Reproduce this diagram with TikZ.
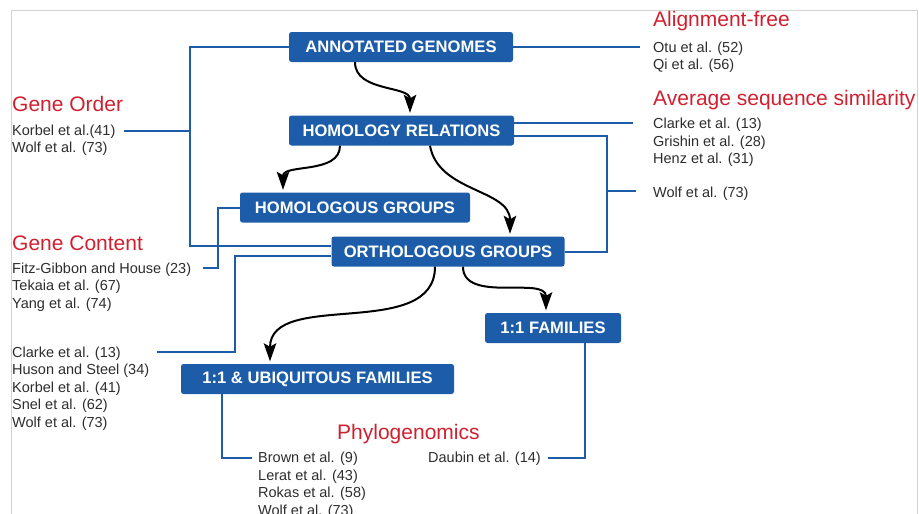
\documentclass[tikz,border=0pt]{standalone}
\usepackage{fontspec}
\setmainfont{Liberation Sans}
\usetikzlibrary{positioning}
\usetikzlibrary{arrows.meta}
\definecolor{boxblue}{RGB}{28,92,168}
\definecolor{headred}{RGB}{208,32,48}
\definecolor{reftext}{RGB}{45,45,45}
\tikzset{
box/.style={ % blue step boxes
	fill=boxblue, text=white, rounded corners=2.5pt,
	minimum height=30pt, inner xsep=8pt,
	font=\fontsize{16.6}{19}\selectfont\bfseries},
head/.style={ % red method titles
	anchor=base west, inner sep=0pt, text=headred,
	font=\fontsize{21}{25}\selectfont},
refs/.style={ % lists of references
	anchor=north west, align=left, inner sep=0pt, text=reftext,
	font=\fontsize{14.5}{17.5}\selectfont},
link/.style={draw=boxblue, line width=2pt},
flow/.style={draw=black, line width=2pt, ->, shorten >=2.5pt},
>={Stealth[length=18pt,width=12.5pt,inset=3.5pt]}}

\begin{document}
\begin{tikzpicture}[x=1pt,y=1pt]
\useasboundingbox (0,0) rectangle (919,-514);
\clip (0,0) rectangle (919,-514);
\draw[gray!35, line width=1pt] (11,-520) |- (917,-10) -- (917,-520);

% boxes
\node[box, minimum width=224pt] (annot) at (401,-47) {ANNOTATED GENOMES};
\node[box, minimum width=225pt] (homrel) at (401.5,-130.5) {HOMOLOGY RELATIONS};
\node[box, minimum width=230pt] (homgrp) at (355,-207.5) {HOMOLOGOUS GROUPS};
\node[box, minimum width=233pt] (orthgrp) at (448,-251.5) {ORTHOLOGOUS GROUPS};
\node[box, minimum width=136pt] (fam) at (553,-328) {1:1 FAMILIES};
\node[box, minimum width=273pt] (ubiq) at (317.5,-379) {1:1 \& UBIQUITOUS FAMILIES};

% titles and references
\node[head] (gorder) at (12,-111) {Gene Order};
\node[refs] (gorefs) at (12,-124.5) {Korbel et al.(41)\\Wolf et al. (73)};
\node[head] (gcont) at (12,-250) {Gene Content};
\node[refs] (gcrefs) at (12,-262.5) {Fitz-Gibbon and House (23)\\Tekaia et al. (67)\\Yang et al. (74)};
\node[refs] (orefs) at (12,-346.5) {Clarke et al. (13)\\Huson and Steel (34)\\Korbel et al. (41)\\Snel et al. (62)\\Wolf et al. (73)};
\node[head] (alfree) at (653,-26) {Alignment-free};
\node[refs] (alrefs) at (653,-41.5) {Otu et al. (52)\\Qi et al. (56)};
\node[head] (avgsim) at (653,-105) {Average sequence similarity};
\node[refs] (simrefs) at (653,-118) {Clarke et al. (13)\\Grishin et al. (28)\\Henz et al. (31)};
\node[refs] (wolfrefs) at (653,-186.5) {Wolf et al. (73)};
\node[head] (phylo) at (337,-439) {Phylogenomics};
\node[refs] (phrefs) at (258,-452) {Brown et al. (9)\\Lerat et al. (43)\\Rokas et al. (58)\\Wolf et al. (73)};
\node[refs] (daubin) at (428,-452) {Daubin et al. (14)};

% free ends of the blue links
\coordinate (korend) at (124,-131);
\coordinate (fitzend) at (203,-268);
\coordinate (clarkeend) at (157,-352);
\coordinate (otuend) at (640,-47);
\coordinate (simend) at (633,-123);
\coordinate (wolfend) at (636,-191);
\coordinate (brownend) at (252,-458);
\coordinate (daubinend) at (548,-458);

% blue links
\draw[link] (annot.west) -- ++(-99,0) coordinate (lb) |- ([yshift=5.5pt]orthgrp.west);
\draw[link] (korend) -- (korend -| lb);
\draw[link] (homgrp.west) -- ++(-22,0) |- (fitzend);
\draw[link] ([yshift=-4.5pt]orthgrp.west) -- ++(-96,0) |- (clarkeend);
\draw[link] (annot.east) -- (otuend);
\draw[link] ([yshift=7.5pt]homrel.east) -- (simend);
\draw[link] ([yshift=-5.5pt]homrel.east) -- ++(93,0) coordinate (rb) |- (orthgrp.east);
\draw[link] (rb |- wolfend) -- (wolfend);
\draw[link] ([xshift=-96pt]ubiq.south) |- (brownend);
\draw[link] ([xshift=32pt]fam.south) |- (daubinend);

% black arrows
\draw[flow] ([xshift=-46pt]annot.south) to[out=-90,in=90] ([xshift=8.5pt]homrel.north);
\draw[flow] ([xshift=-61.5pt]homrel.south) to[out=-90,in=90] ([xshift=-72pt]homgrp.north);
\draw[flow] ([xshift=28.5pt]homrel.south) to[out=-80,in=90] ([xshift=62pt]orthgrp.north);
\draw[flow] ([xshift=-13pt]orthgrp.south) to[out=-90,in=90] ([xshift=-47.5pt]ubiq.north);
\draw[flow] ([xshift=15pt]orthgrp.south) to[out=-90,in=90] ([xshift=-7pt]fam.north);
\end{tikzpicture}
\end{document}
